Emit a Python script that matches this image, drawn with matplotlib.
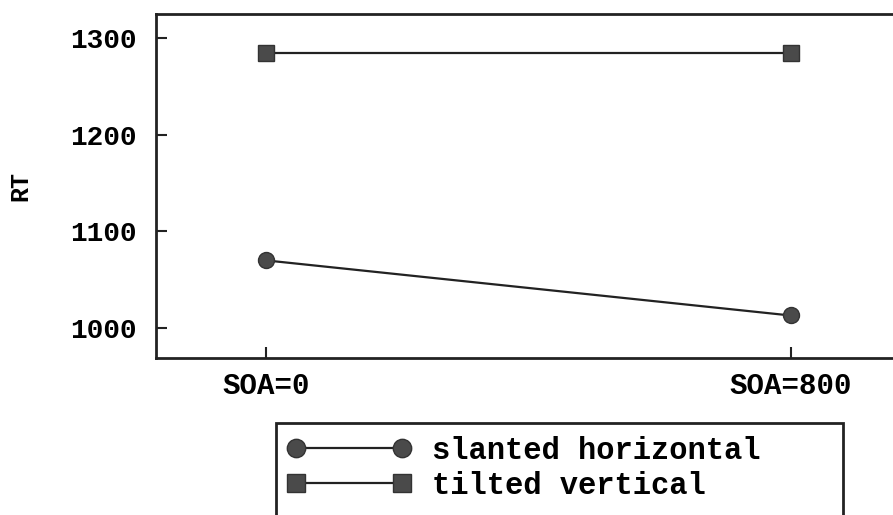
import matplotlib
matplotlib.use("Agg")
import matplotlib.pyplot as plt
from matplotlib.patches import Rectangle

conditions = ["SOA=0", "SOA=800"]
slanted_horizontal = [1070, 1013]
tilted_vertical = [1285, 1285]
yticks = [1000, 1100, 1200, 1300]

W, H = 893, 515
fig = plt.figure(figsize=(W / 100, H / 100), dpi=100)
ax = fig.add_axes([156 / W, 1 - 358 / H, (W + 5 - 156) / W, (358 - 14) / H])

font = ["Liberation Mono", "DejaVu Sans Mono"]
x = list(range(len(conditions)))
ax.plot(x, slanted_horizontal, color="#222222", lw=1.6, marker="o", ms=11.5,
        mfc="#4a4a4a", mec="#333333", label="slanted horizontal")
ax.plot(x, tilted_vertical, color="#222222", lw=1.6, marker="s", ms=11,
        mfc="#4a4a4a", mec="#333333", label="tilted vertical")

ax.set_xlim(-0.21, 1.205)
ax.set_ylim(969, 1325)
ax.set_xticks(x)
ax.set_xticklabels(conditions, fontfamily=font, fontsize=21, fontweight="bold")
ax.set_yticks(yticks)
ax.set_yticklabels([str(v) for v in yticks], fontfamily=font, fontsize=20, fontweight="bold")
ax.tick_params(direction="in", length=8, width=1.5, color="#222222")
ax.tick_params(axis="x", pad=10)
ax.tick_params(axis="y", pad=14)
for s in ["left", "bottom", "top"]:
    ax.spines[s].set_linewidth(2)
    ax.spines[s].set_color("#222222")
ax.spines["right"].set_visible(False)
ax.set_ylabel("RT", fontfamily=font, fontsize=18, fontweight="bold", labelpad=27)

# legend box
fig.patches.append(Rectangle((276 / W, -0.1), (843 - 276) / W, 0.1 + (H - 423) / H,
                             transform=fig.transFigure, fill=False, lw=2,
                             ec="#222222"))
leg = fig.legend(loc="upper left", bbox_to_anchor=(287 / W, 1 - 436 / H),
                 frameon=False, numpoints=2, handlelength=4.05, handletextpad=0.69,
                 borderpad=0, borderaxespad=0, markerscale=1.15,
                 labelspacing=0.15, prop={"family": font, "size": 22, "weight": "bold"})

fig.savefig("out.png", dpi=100)
